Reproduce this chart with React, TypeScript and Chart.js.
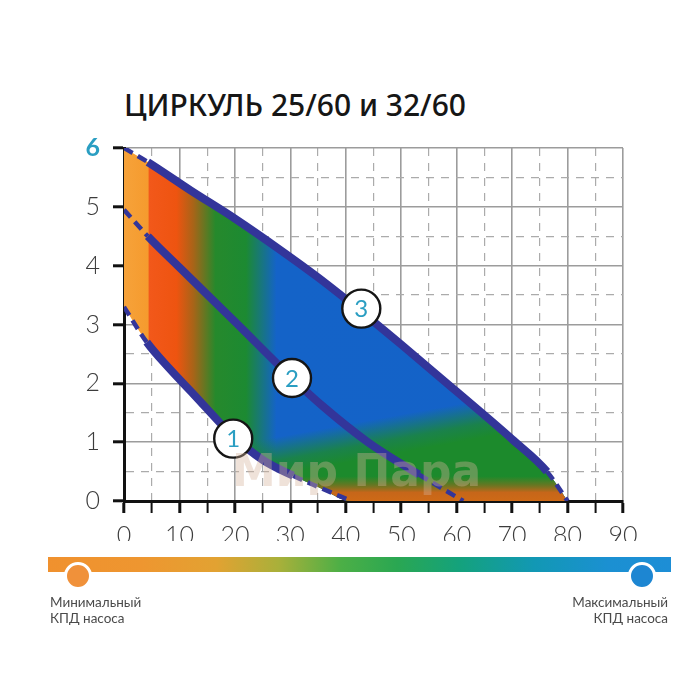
import React, { useEffect, useRef } from 'react';
import { Chart, registerables } from 'chart.js';

Chart.register(...registerables);

// ---------- text ----------
const TITLE = 'ЦИРКУЛЬ 25/60 и 32/60';
const LEGEND_MIN = ['Минимальный', 'КПД насоса'];
const LEGEND_MAX = ['Максимальный', 'КПД насоса'];
const WATERMARK = 'Мир Пара';

// ---------- axes ----------
const X_MIN = 0;
const X_MAX = 90;
const X_STEP = 5;
const X_LABEL_EVERY = 10;
const Y_MIN = 0;
const Y_MAX = 6;
const Y_STEP = 0.5;
const Y_LABEL_EVERY = 1;

// ---------- data (flow m3/h -> head m) ----------
const curve3X = [0, 4.3, 12, 20, 28, 35, 42.8, 50, 60, 70, 76.3, 80];
const curve3Y = [6, 5.76, 5.28, 4.8, 4.28, 3.8, 3.22, 2.66, 1.86, 1.05, 0.5, 0];
const curve3Solid = [1, 10];

const curve2X = [0, 4.3, 10, 20, 30.3, 36, 44, 53.2, 61.2];
const curve2Y = [4.95, 4.5, 3.97, 3.05, 2.09, 1.6, 1.0, 0.45, 0];
const curve2Solid = [1, 7];

const curve1X = [0, 4.1, 8, 12.5, 19.7, 25, 30.5, 35, 41];
const curve1Y = [3.3, 2.7, 2.27, 1.82, 1.1, 0.7, 0.43, 0.24, 0];
const curve1Solid = [1, 6];

// lower edge of the working area beyond curve 1 (along the flow axis)
const floorX = [80];
const floorY = [0];

const labelNames = ['1', '2', '3'];
const labelX = [19.7, 30.3, 42.8];
const labelY = [1.06, 2.09, 3.27];

// ---------- styles ----------
const NAVY = '#33359a';
const TEAL = '#2a9ec2';
const TICK_FONT = 'Lato, "Open Sans", sans-serif';
const MAIN_STOPS: [number, string][] = [
  [0, '#f6a23a'],
  [4.3, '#f59b2e'],
  [4.6, '#f2581a'],
  [9.5, '#ee5410'],
  [12.5, '#a86418'],
  [16.5, '#26892c'],
  [22, '#1c8a32'],
  [27.5, '#1463c8'],
  [90, '#1462c8'],
];
const GREEN_STOPS: [number, string][] = [
  [0, 'rgba(28,138,44,0)'],
  [0.3, 'rgba(28,138,44,0.8)'],
  [0.48, 'rgba(28,138,44,1)'],
  [1, 'rgba(28,138,44,1)'],
];
const ORANGE_STOPS: [number, string][] = [
  [0, 'rgba(110,120,32,0)'],
  [0.35, 'rgba(120,114,32,0.8)'],
  [0.65, 'rgba(198,102,26,1)'],
  [1, 'rgba(206,106,22,1)'],
];

const toPts = (xs: number[], ys: number[]) => xs.map((x, i) => ({ x, y: ys[i] }));

function mainGradient(c: any) {
  const { ctx, chartArea, scales } = c.chart;
  if (!chartArea) return 'transparent';
  const g = ctx.createLinearGradient(scales.x.getPixelForValue(X_MIN), 0, scales.x.getPixelForValue(X_MAX), 0);
  MAIN_STOPS.forEach(([v, col]) => g.addColorStop((v - X_MIN) / (X_MAX - X_MIN), col));
  return g;
}

function makeGradient(c: any, from: number[], to: number[], stops: [number, string][]) {
  const { ctx, chartArea, scales } = c.chart;
  if (!chartArea) return 'transparent';
  const g = ctx.createLinearGradient(
    scales.x.getPixelForValue(from[0]),
    scales.y.getPixelForValue(from[1]),
    scales.x.getPixelForValue(to[0]),
    scales.y.getPixelForValue(to[1])
  );
  stops.forEach(([t, col]) => g.addColorStop(t, col));
  return g;
}

const greenGradient = (c: any) => makeGradient(c, [40, 1.3], [42.5, 0], GREEN_STOPS);
const orangeGradient = (c: any) => makeGradient(c, [40, 0.42], [40, 0], ORANGE_STOPS);

const isDashed = (c: any, solid: number[]) => c.p0DataIndex < solid[0] || c.p1DataIndex > solid[1];

const curveDataset = (xs: number[], ys: number[], solid: number[]) => ({
  data: toPts(xs, ys),
  borderColor: NAVY,
  borderWidth: 8,
  borderCapStyle: 'butt',
  pointRadius: 0,
  fill: false,
  cubicInterpolationMode: 'monotone',
  segment: {
    borderDash: (c: any) => (isDashed(c, solid) ? [10, 6] : undefined),
    borderWidth: (c: any) => (isDashed(c, solid) ? 4.5 : undefined),
  },
});

const LOWER_INDEX = 7;
const areaDataset = (bg: any) => ({
  data: toPts(curve3X, curve3Y),
  borderWidth: 0,
  borderColor: 'transparent',
  pointRadius: 0,
  cubicInterpolationMode: 'monotone',
  backgroundColor: bg,
  fill: LOWER_INDEX,
});

const labelPlugin = {
  id: 'curveNumbers',
  afterDatasetsDraw(chart: any) {
    const meta = chart.getDatasetMeta(0);
    const ctx = chart.ctx;
    ctx.save();
    ctx.fillStyle = TEAL;
    ctx.font = '24px Lato, "Open Sans", sans-serif';
    ctx.textAlign = 'center';
    ctx.textBaseline = 'middle';
    meta.data.forEach((pt: any, i: number) => ctx.fillText(labelNames[i], pt.x, pt.y + 1));
    ctx.restore();
  },
};

export default function App() {
  const ref = useRef<HTMLCanvasElement | null>(null);

  useEffect(() => {
    if (!ref.current) return;
    const lowerX = [...curve1X, ...floorX];
    const lowerY = [...curve1Y, ...floorY];
    const chart = new Chart(ref.current, {
      type: 'line',
      data: {
        datasets: [
          {
            data: toPts(labelX, labelY),
            showLine: false,
            pointRadius: 19,
            pointBackgroundColor: '#ffffff',
            pointBorderColor: '#151515',
            pointBorderWidth: 2.4,
          } as any,
          curveDataset(curve3X, curve3Y, curve3Solid) as any,
          curveDataset(curve2X, curve2Y, curve2Solid) as any,
          curveDataset(curve1X, curve1Y, curve1Solid) as any,
          areaDataset(orangeGradient) as any,
          areaDataset(greenGradient) as any,
          areaDataset(mainGradient) as any,
          {
            data: toPts(lowerX, lowerY),
            borderWidth: 0,
            borderColor: 'transparent',
            pointRadius: 0,
            cubicInterpolationMode: 'monotone',
            fill: false,
          } as any,
        ],
      },
      options: {
        responsive: false,
        animation: false,
        devicePixelRatio: 1,
        layout: { padding: { left: 74, top: 148, right: 77, bottom: 19 } },
        plugins: {
          legend: { display: false },
          tooltip: { enabled: false },
          title: { display: false },
        },
        scales: {
          x: {
            type: 'linear',
            min: X_MIN,
            max: X_MAX,
            afterFit: (s: any) => {
              s.height = 40;
            },
            ticks: {
              stepSize: X_STEP,
              autoSkip: false,
              maxRotation: 0,
              padding: 8,
              color: '#3c3c3c',
              font: { family: TICK_FONT, size: 25, weight: '300' },
              callback: (v: any) => (Number(v) % X_LABEL_EVERY === 0 ? String(v) : ''),
            },
            grid: {
              color: (c: any) => (c.tick && c.tick.value % X_LABEL_EVERY !== 0 ? '#ababab' : '#9c9c9c'),
              lineWidth: (c: any) => (c.tick && c.tick.value % X_LABEL_EVERY !== 0 ? 1.2 : 1.6),
              drawTicks: true,
              tickLength: 12,
              tickColor: '#111111',
              tickWidth: (c: any) => (c.tick && c.tick.value % X_LABEL_EVERY !== 0 ? 2 : 3),
            },
            border: {
              display: true,
              color: '#111111',
              width: 3,
              dash: (c: any) => (c.tick && c.tick.value % X_LABEL_EVERY !== 0 ? [8, 7] : []),
            },
          },
          y: {
            type: 'linear',
            min: Y_MIN,
            max: Y_MAX,
            afterFit: (s: any) => {
              s.width = 50;
            },
            ticks: {
              stepSize: Y_STEP,
              autoSkip: false,
              padding: 13,
              color: (c: any) => (c.tick && c.tick.value === Y_MAX ? TEAL : '#3c3c3c'),
              font: (c: any) => ({
                family: TICK_FONT,
                size: 25,
                weight: c.tick && c.tick.value === Y_MAX ? 'bold' : '300',
              }),
              callback: (v: any) => (Number(v) % Y_LABEL_EVERY === 0 ? String(v) : ''),
            },
            grid: {
              color: (c: any) => (c.tick && c.tick.value % Y_LABEL_EVERY !== 0 ? '#ababab' : '#9c9c9c'),
              lineWidth: (c: any) => (c.tick && c.tick.value % Y_LABEL_EVERY !== 0 ? 1.2 : 1.6),
              drawTicks: true,
              tickLength: 11,
              tickColor: (c: any) => (c.tick && c.tick.value % Y_LABEL_EVERY !== 0 ? 'transparent' : '#111111'),
              tickWidth: 3,
            },
            border: {
              display: true,
              color: '#111111',
              width: 3,
              dash: (c: any) => (c.tick && c.tick.value % Y_LABEL_EVERY !== 0 ? [8, 7] : []),
            },
          },
        },
      } as any,
      plugins: [labelPlugin],
    });
    return () => chart.destroy();
  }, []);

  const legendText: React.CSSProperties = {
    position: 'absolute',
    top: 594,
    font: '13.5px Lato, "Open Sans", sans-serif',
    lineHeight: '16px',
    color: '#4a4a4a',
    whiteSpace: 'nowrap',
  };

  return (
    <div style={{ position: 'absolute', left: 0, top: 0, width: 700, height: 700, background: '#fff' }}>
      <div
        style={{
          position: 'absolute',
          left: 124,
          top: 90,
          font: '500 30px "Noto Sans", sans-serif',
          lineHeight: '30px',
          color: '#161616',
          whiteSpace: 'nowrap',
        }}
      >
        {TITLE}
      </div>
      <canvas ref={ref} width={700} height={560} style={{ position: 'absolute', left: 0, top: 0 }} />
      <div
        style={{
          position: 'absolute',
          left: 232,
          top: 448,
          font: 'bold 44px "DejaVu Sans", sans-serif',
          lineHeight: '46px',
          color: 'rgba(214,180,155,0.38)',
          whiteSpace: 'nowrap',
          pointerEvents: 'none',
        }}
      >
        {WATERMARK}
      </div>
      <div
        style={{
          position: 'absolute',
          left: 48,
          top: 557,
          width: 623,
          height: 15,
          background:
            'linear-gradient(to right, #f0912e 0%, #ee9630 15%, #e2a232 27%, #a9b03a 37%, #4caf46 47%, #2aa752 56%, #14a27c 66%, #1298b4 78%, #1b90d2 90%, #1d8ed6 100%)',
        }}
      />
      <div
        style={{
          position: 'absolute',
          left: 64,
          top: 562,
          width: 22,
          height: 22,
          borderRadius: '50%',
          background: '#f0913a',
          border: '3px solid #fff',
        }}
      />
      <div
        style={{
          position: 'absolute',
          left: 628,
          top: 562,
          width: 22,
          height: 22,
          borderRadius: '50%',
          background: '#1d86d2',
          border: '3px solid #fff',
        }}
      />
      <div style={{ ...legendText, left: 50, textAlign: 'left' }}>
        {LEGEND_MIN[0]}
        <br />
        {LEGEND_MIN[1]}
      </div>
      <div style={{ ...legendText, right: 32, textAlign: 'right' }}>
        {LEGEND_MAX[0]}
        <br />
        {LEGEND_MAX[1]}
      </div>
    </div>
  );
}
